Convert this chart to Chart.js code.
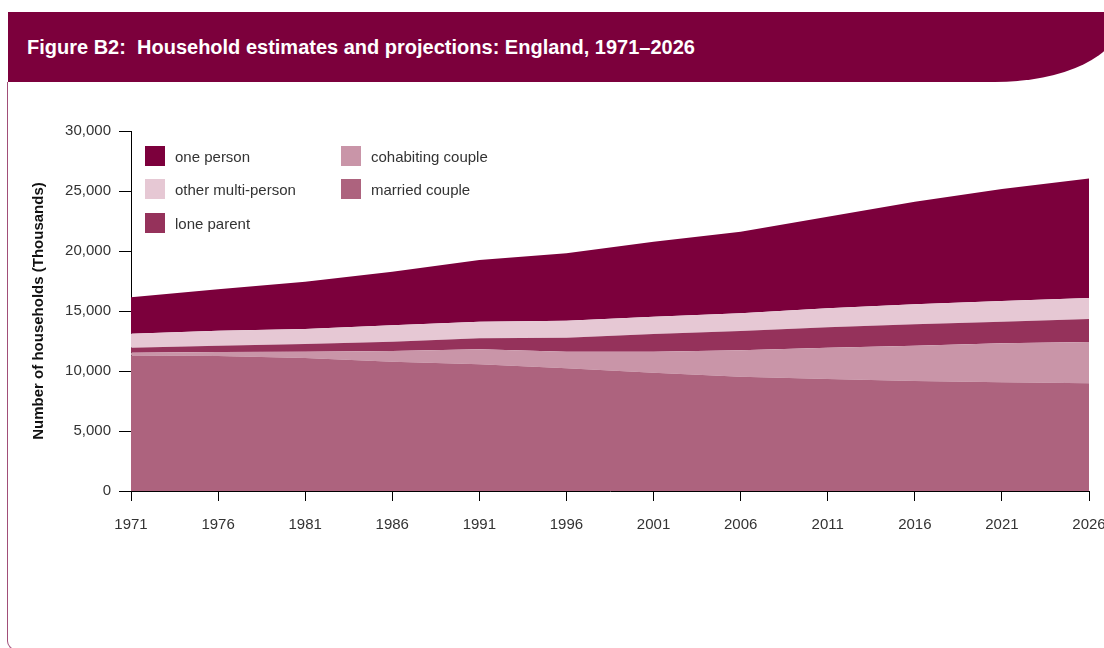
<!DOCTYPE html>
<html>
<head>
<meta charset="utf-8">
<title>Household estimates and projections</title>
<script src="https://cdn.jsdelivr.net/npm/chart.js@4/dist/chart.umd.min.js"></script>
<style>
  html, body { margin: 0; padding: 0; background: #fff; overflow: hidden; }
  body { width: 1104px; height: 648px; position: relative; font-family: "Liberation Sans", Arial, sans-serif; }
  .banner {
    position: absolute; left: 8px; top: 12px; width: 1112px; height: 70px;
    background: #7c003c; border-bottom-right-radius: 125px 60px;
  }
  .banner h1 {
    margin: 0; position: absolute; left: 19px; top: 24px;
    font-size: 20px; font-weight: bold; color: #fff; white-space: pre;
  }
  .frame {
    position: absolute; left: 7px; top: 82px; width: 1200px; height: 567px;
    border-left: 1.5px solid #a14e78; border-bottom: 1.5px solid #a14e78;
    border-bottom-left-radius: 9px;
  }
  #chartCanvas { position: absolute; left: 0; top: 0; }
  .legend { position: absolute; left: 0; top: 0; }
  .legend div { position: absolute; font-size: 15px; color: #333; white-space: nowrap; line-height: 20px; padding-left: 30px; }
  .legend span { position: absolute; left: 0; top: -1px; width: 20px; height: 20px; }
</style>
</head>
<body>
<div class="frame"></div>
<div class="banner"><h1>Figure B2:  Household estimates and projections: England, 1971–2026</h1></div>
<canvas id="chartCanvas" width="1130" height="648"></canvas>
<div class="legend" id="legend"></div>

<script>
// households by type, thousands
const years = [1971, 1976, 1981, 1986, 1991, 1996, 2001, 2006, 2011, 2016, 2021, 2026];
const marriedCouple = [11300, 11250, 11080, 10780, 10560, 10220, 9860, 9530, 9330, 9170, 9060, 8970];
const cohabitingCouple = [230, 330, 530, 890, 1250, 1390, 1750, 2190, 2610, 2940, 3250, 3450];
const loneParent = [410, 530, 640, 770, 910, 1170, 1470, 1610, 1700, 1780, 1800, 1910];
const otherMultiPerson = [1170, 1250, 1250, 1370, 1390, 1410, 1450, 1480, 1580, 1670, 1720, 1750];
const onePerson = [3030, 3450, 3940, 4470, 5140, 5620, 6250, 6800, 7640, 8550, 9340, 9970];

const yearTicks = [1971, 1976, 1981, 1986, 1991, 1996, 2001, 2006, 2011, 2016, 2021, 2026];
const countTicks = [0, 5000, 10000, 15000, 20000, 25000, 30000];

const colours = {
    one: "#7c003c",
    other: "#e6c8d4",
    lone: "#95325b",
    cohab: "#c995a8",
    married: "#ad637e"
};

function points(values) {
    return years.map((y, i) => ({ x: y, y: values[i] }));
}

function area(label, values, colour, fill) {
    return {
        label: label,
        data: points(values),
        backgroundColor: colour,
        borderColor: colour,
        borderWidth: 0,
        pointRadius: 0,
        tension: 0,
        fill: fill
    };
}

const tickFont = { family: "'Liberation Sans', Arial, sans-serif", size: 15 };

const ctx = document.getElementById("chartCanvas").getContext("2d");

new Chart(ctx, {
    type: "line",
    data: {
        datasets: [
            area("married couple", marriedCouple, colours.married, "origin"),
            area("cohabiting couple", cohabitingCouple, colours.cohab, "-1"),
            area("lone parent", loneParent, colours.lone, "-1"),
            area("other multi-person", otherMultiPerson, colours.other, "-1"),
            area("one person", onePerson, colours.one, "-1")
        ]
    },
    options: {
        responsive: false,
        animation: false,
        layout: { padding: { left: 0, top: 131, right: 41, bottom: 97 } },
        plugins: { legend: { display: false }, tooltip: { enabled: false } },
        scales: {
            x: {
                type: "linear",
                min: 1971,
                max: 2026,
                afterBuildTicks: axis => { axis.ticks = yearTicks.map(v => ({ value: v })); },
                afterFit: s => { s.height = 60; },
                ticks: {
                    callback: v => String(v),
                    font: tickFont,
                    color: "#333",
                    padding: 15,
                    maxRotation: 0,
                    autoSkip: false
                },
                grid: { drawOnChartArea: false, tickLength: 10, color: "#000", lineWidth: 1 },
                border: { color: "#000", width: 1 }
            },
            y: {
                stacked: true,
                min: 0,
                max: 30000,
                afterBuildTicks: axis => { axis.ticks = countTicks.map(v => ({ value: v })); },
                afterFit: s => { s.width = 131; },
                ticks: {
                    callback: v => v.toLocaleString("en-GB"),
                    font: tickFont,
                    color: "#333",
                    padding: 8
                },
                grid: { drawOnChartArea: false, tickLength: 12, color: "#000", lineWidth: 1 },
                border: { color: "#000", width: 1 },
                title: {
                    display: true,
                    text: "Number of households (Thousands)",
                    font: { family: "'Liberation Sans', Arial, sans-serif", size: 15, weight: "bold" },
                    color: "#111",
                    padding: { top: 30, bottom: 0 }
                }
            }
        }
    }
});

// two-column key in the upper left of the plot
const legendItems = [
    { label: "one person", colour: colours.one, x: 145, y: 147 },
    { label: "other multi-person", colour: colours.other, x: 145, y: 180 },
    { label: "lone parent", colour: colours.lone, x: 145, y: 214 },
    { label: "cohabiting couple", colour: colours.cohab, x: 341, y: 147 },
    { label: "married couple", colour: colours.married, x: 341, y: 180 }
];

const legend = document.getElementById("legend");
legendItems.forEach(item => {
    const row = document.createElement("div");
    row.style.left = item.x + "px";
    row.style.top = item.y + "px";
    row.innerHTML = `<span style="background:${item.colour}"></span>${item.label}`;
    legend.appendChild(row);
});
</script>
</body>
</html>
